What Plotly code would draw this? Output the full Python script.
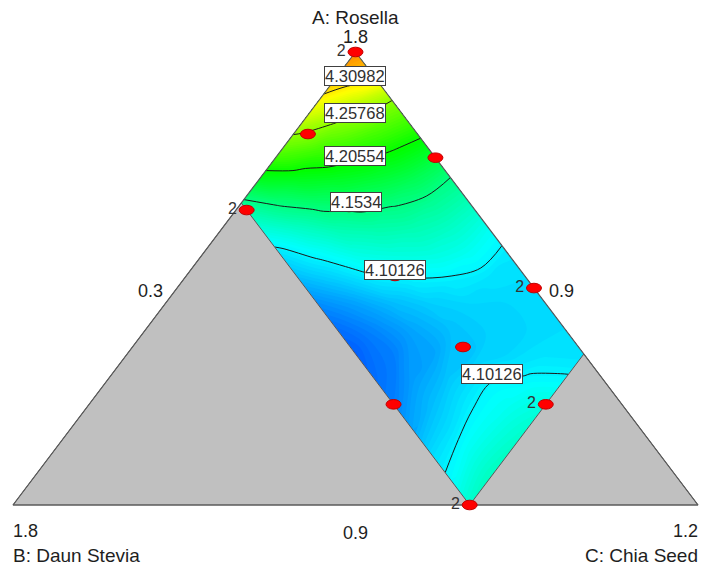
import plotly.graph_objects as go

# ---------------- data ----------------
TOTAL = 3.0
A_LOW, B_LOW, C_LOW = 0.9, 0.9, 0.3
B_HIGH, C_HIGH = 1.2, 0.9
SPAN = TOTAL - A_LOW - B_LOW - C_LOW  # 0.9

component_names = ["A: Rosella", "B: Daun Stevia", "C: Chia Seed"]
vertex_labels = ["1.8", "1.8", "1.2"]
edge_labels = ["0.9", "0.9", "0.3"]  # opposite A, opposite B, opposite C

b_levels = [0.90, 0.95, 1.00, 1.05, 1.10, 1.15, 1.20]
c_levels = [0.30, 0.35, 0.40, 0.45, 0.50, 0.55, 0.60, 0.65, 0.70, 0.75, 0.80, 0.85, 0.90]

# predicted response (rows: B level, columns: C level)
response = [
    [4.345, 4.315, 4.253, 4.220, 4.186, 4.153, 4.132, 4.111, 4.097, 4.093, 4.091, 4.093, 4.094],
    [4.330, 4.279, 4.236, 4.203, 4.173, 4.146, 4.127, 4.110, 4.095, 4.090, 4.090, 4.095, 4.103],
    [4.300, 4.250, 4.216, 4.184, 4.156, 4.135, 4.118, 4.100, 4.090, 4.088, 4.090, 4.103, 4.118],
    [4.267, 4.225, 4.191, 4.162, 4.138, 4.119, 4.101, 4.087, 4.082, 4.082, 4.100, 4.110, 4.124],
    [4.234, 4.194, 4.162, 4.136, 4.116, 4.098, 4.080, 4.072, 4.070, 4.085, 4.099, 4.112, 4.128],
    [4.194, 4.157, 4.128, 4.106, 4.088, 4.070, 4.060, 4.057, 4.068, 4.080, 4.094, 4.112, 4.130],
    [4.147, 4.120, 4.095, 4.080, 4.062, 4.050, 4.044, 4.050, 4.057, 4.072, 4.092, 4.105, 4.125],
]

contour_levels = [4.10126, 4.1534, 4.20554, 4.25768, 4.30982]

# contour label anchors (B, C)
label_values = ["4.30982", "4.25768", "4.20554", "4.1534", "4.10126", "4.10126"]
label_B = [0.9246, 0.961, 1.004, 1.048, 1.065, 1.041]
label_C = [0.3232, 0.360, 0.4026, 0.450, 0.568, 0.799]

# design points
design_B = [0.90, 1.044, 0.90, 1.0625, 1.0706, 1.0518, 1.20, 1.00, 0.90, 1.20, 1.20]
design_C = [0.30, 0.319, 0.51, 0.4454, 0.5744, 0.7343, 0.70, 0.90, 0.769, 0.90, 0.314]
design_reps = [2, 1, 1, 1, 1, 1, 1, 2, 2, 2, 2]


# ---------------- projection ----------------
def to_xy(b, c):
    bp = (b - B_LOW) / SPAN
    cp = (c - C_LOW) / SPAN
    ap = 1.0 - bp - cp
    return cp + ap / 2.0, ap


FONT = "Liberation Sans, Arial, sans-serif"
TXT = "#1e1e1e"

fig = go.Figure()

# carpet grid in (C, B) space
cx = [[to_xy(b, c)[0] for c in c_levels] for b in b_levels]
cy = [[to_xy(b, c)[1] for c in c_levels] for b in b_levels]
hidden_axis = dict(showgrid=False, showline=False, showticklabels="none", startline=False,
                   endline=False, minorgridcount=0, linecolor="rgba(0,0,0,0)",
                   gridcolor="rgba(0,0,0,0)")
fig.add_trace(go.Carpet(a=c_levels, b=b_levels, x=cx, y=cy, carpet="mix",
                        aaxis=hidden_axis, baxis=hidden_axis, color="rgba(0,0,0,0)"))

hue_scale = [[0.0, "rgb(0,0,255)"], [0.25, "rgb(0,255,255)"], [0.5, "rgb(0,255,0)"],
             [0.75, "rgb(255,255,0)"], [1.0, "rgb(255,0,0)"]]

fig.add_trace(go.Contourcarpet(
    a=c_levels, b=b_levels, z=response, carpet="mix",
    colorscale=hue_scale, zauto=False, zmin=4.008, zmax=4.40,
    autocontour=False,
    contours=dict(coloring="fill", start=4.0, end=4.4, size=0.003),
    line=dict(width=0, smoothing=1.0),
    showscale=False,
))

fig.add_trace(go.Contourcarpet(
    a=c_levels, b=b_levels, z=response, carpet="mix",
    autocontour=False,
    contours=dict(coloring="none", start=contour_levels[0], end=contour_levels[-1],
                  size=contour_levels[1] - contour_levels[0]),
    line=dict(width=1, color="#1a1a1a", smoothing=1.0),
    showscale=False,
))

# grey infeasible regions
left_grey = [(TOTAL - A_LOW - C_LOW, C_LOW), (B_HIGH, C_LOW), (B_HIGH, TOTAL - A_LOW - B_HIGH)]
right_grey = [(B_LOW, TOTAL - A_LOW - B_LOW), (B_HIGH, C_HIGH), (B_LOW, C_HIGH)]
for poly in (left_grey, right_grey):
    pts = [to_xy(b, c) for b, c in poly] + [to_xy(*poly[0])]
    fig.add_trace(go.Scatter(x=[p[0] for p in pts], y=[p[1] for p in pts], mode="lines",
                             fill="toself", fillcolor="#c0c0c0",
                             line=dict(color="#5a5a5a", width=1), hoverinfo="skip"))

# outer triangle outline
outer = [(B_LOW, C_LOW), (TOTAL - A_LOW - C_LOW, C_LOW), (B_LOW, TOTAL - A_LOW - B_LOW), (B_LOW, C_LOW)]
op = [to_xy(b, c) for b, c in outer]
fig.add_trace(go.Scatter(x=[p[0] for p in op], y=[p[1] for p in op], mode="lines",
                         line=dict(color="#5a5a5a", width=1.2), hoverinfo="skip"))

# design points: replicate counts as text
dp = [to_xy(b, c) for b, c in zip(design_B, design_C)]
fig.add_trace(go.Scatter(
    x=[p[0] for p in dp], y=[p[1] for p in dp], mode="markers+text",
    marker=dict(size=14, color="rgba(0,0,0,0)"),
    text=[str(r) if r > 1 else "" for r in design_reps], textposition="middle left",
    textfont=dict(family=FONT, size=16, color="#333333"), hoverinfo="skip"))

shapes = []
RX, RY = 7.5 / 685.0, 4.8 / 453.0
for x, y in dp:
    shapes.append(dict(type="circle", xref="x", yref="y", x0=x - RX, x1=x + RX,
                       y0=y - RY, y1=y + RY, fillcolor="#ff0000",
                       line=dict(color="#c00000", width=1)))

annotations = []
for txt, b, c in zip(label_values, label_B, label_C):
    x, y = to_xy(b, c)
    annotations.append(dict(x=x, y=y, text=txt, showarrow=False,
                            font=dict(family=FONT, size=16.5, color="#303030"),
                            bgcolor="white", bordercolor="#404040", borderwidth=1, borderpad=0))

ax, ay = to_xy(B_LOW, C_LOW)
bx, by = to_xy(TOTAL - A_LOW - C_LOW, C_LOW)
cxv, cyv = to_xy(B_LOW, TOTAL - A_LOW - B_LOW)
NF = dict(family=FONT, size=18, color=TXT)
TF = dict(family=FONT, size=19, color=TXT)
annotations += [
    dict(x=ax, y=ay, text=component_names[0], showarrow=False, font=TF, yshift=35),
    dict(x=ax, y=ay, text=vertex_labels[0], showarrow=False, font=NF, yshift=15),
    dict(x=bx, y=by, text=vertex_labels[1], showarrow=False, font=NF, xanchor="left", xshift=-2, yshift=-26),
    dict(x=bx, y=by, text=component_names[1], showarrow=False, font=TF, xanchor="left", xshift=-2, yshift=-50),
    dict(x=cxv, y=cyv, text=vertex_labels[2], showarrow=False, font=NF, xanchor="right", xshift=2, yshift=-26),
    dict(x=cxv, y=cyv, text=component_names[2], showarrow=False, font=TF, xanchor="right", xshift=2, yshift=-50),
]
# edge labels (low bounds)
base_mid = to_xy((TOTAL - A_LOW + B_LOW - C_LOW) / 2.0, (TOTAL - A_LOW - B_LOW + C_LOW) / 2.0)
annotations.append(dict(x=base_mid[0], y=base_mid[1], text=edge_labels[0], showarrow=False,
                        font=NF, yshift=-28))
a_frac = 0.472
right_pt = to_xy(B_LOW, C_LOW + (1 - a_frac) * SPAN)
left_pt = to_xy(B_LOW + (1 - a_frac) * SPAN, C_LOW)
annotations.append(dict(x=right_pt[0], y=right_pt[1], text=edge_labels[1], showarrow=False,
                        font=NF, xanchor="left", xshift=11))
annotations.append(dict(x=left_pt[0], y=left_pt[1], text=edge_labels[2], showarrow=False,
                        font=NF, xanchor="right", xshift=-10))

fig.update_layout(
    width=702, height=567, margin=dict(l=0, r=0, t=0, b=0),
    paper_bgcolor="white", plot_bgcolor="white", showlegend=False,
    xaxis=dict(range=[-13 / 685.0, -13 / 685.0 + 702 / 685.0], visible=False, fixedrange=True),
    yaxis=dict(range=[1 + 52 / 453.0 - 567 / 453.0, 1 + 52 / 453.0], visible=False, fixedrange=True),
    shapes=shapes, annotations=annotations,
)

fig.write_html("out.html", config={"displayModeBar": False},
               post_script="document.body.style.margin='0';document.body.style.overflow='hidden';")
